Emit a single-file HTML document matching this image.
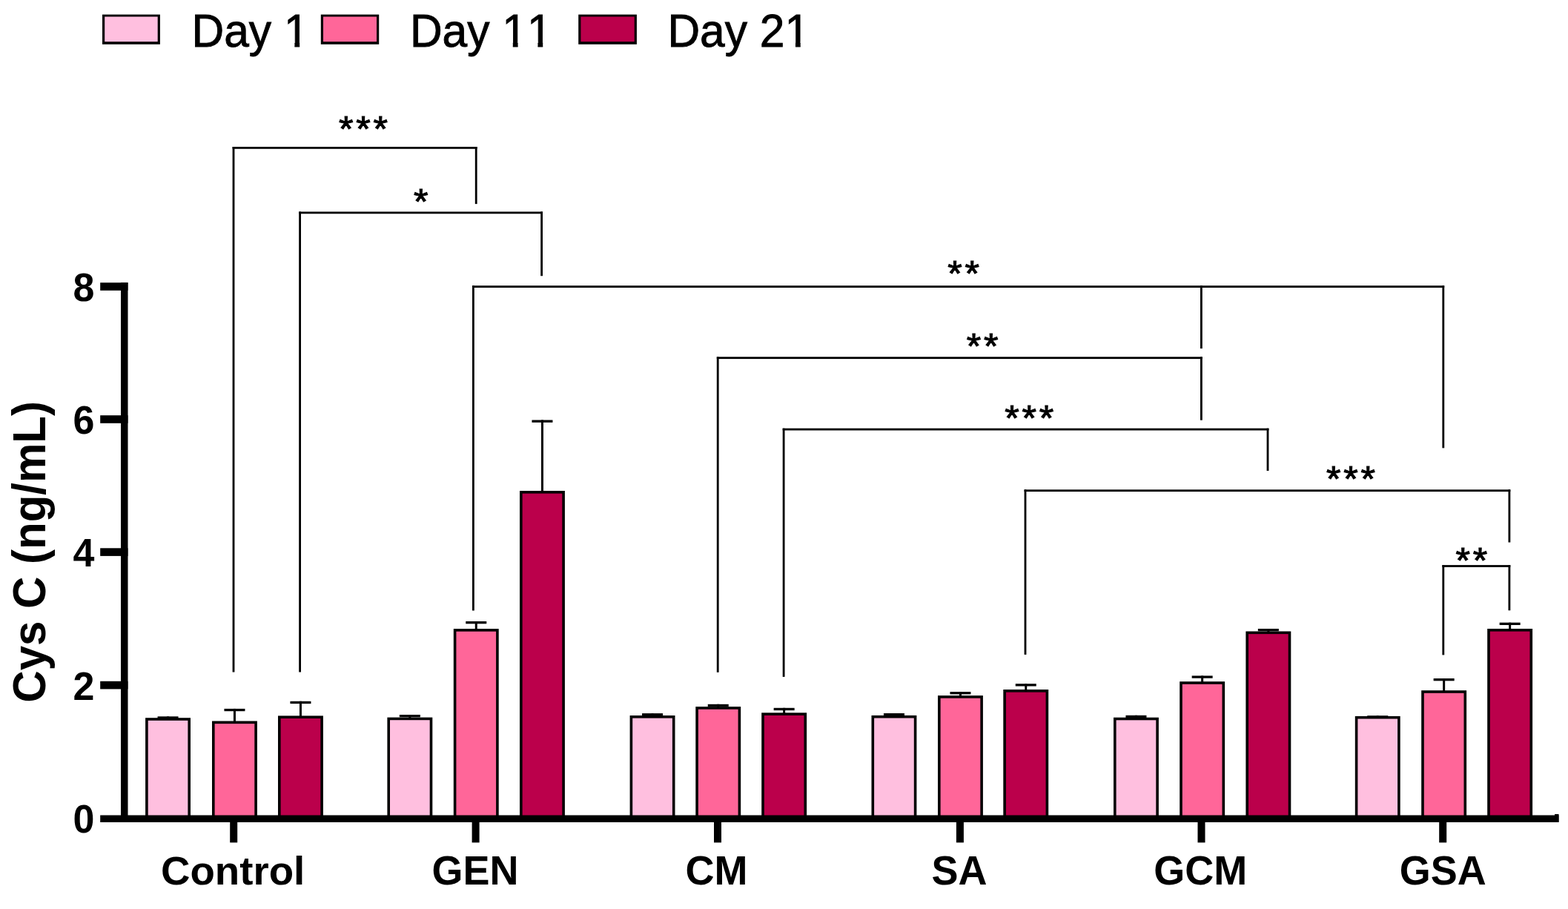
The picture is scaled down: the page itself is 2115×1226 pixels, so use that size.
<!DOCTYPE html>
<html><head><meta charset="utf-8"><title>Cys C chart</title>
<style>
html,body{margin:0;padding:0;background:#fff;}
body{width:2115px;height:1226px;overflow:hidden;}
svg{display:block;}
text{font-family:"Liberation Sans", Arial, Helvetica, sans-serif;fill:#000;}
</style></head><body>
<svg width="2115" height="1226" viewBox="0 0 2115 1226">
<defs><clipPath id="lc1" clipPathUnits="userSpaceOnUse"><rect x="-20.00" y="-200.00" width="1200.00" height="194.18"/><rect x="0.00" y="-6.12" width="43.69" height="60.00"/><rect x="43.69" y="-6.12" width="33.65" height="60.00"/><rect x="77.34" y="-6.12" width="30.25" height="60.00"/><rect x="107.59" y="-6.12" width="16.81" height="60.00"/><rect x="138.91" y="-6.12" width="6.75" height="8.12"/></clipPath><clipPath id="lc2" clipPathUnits="userSpaceOnUse"><rect x="-20.00" y="-200.00" width="1200.00" height="194.18"/><rect x="0.00" y="-6.12" width="43.69" height="60.00"/><rect x="43.69" y="-6.12" width="33.65" height="60.00"/><rect x="77.34" y="-6.12" width="30.25" height="60.00"/><rect x="107.59" y="-6.12" width="16.81" height="60.00"/><rect x="138.91" y="-6.12" width="6.75" height="8.12"/><rect x="172.56" y="-6.12" width="6.75" height="8.12"/></clipPath><clipPath id="lc3" clipPathUnits="userSpaceOnUse"><rect x="-20.00" y="-200.00" width="1200.00" height="194.18"/><rect x="0.00" y="-6.12" width="43.69" height="60.00"/><rect x="43.69" y="-6.12" width="33.65" height="60.00"/><rect x="77.34" y="-6.12" width="30.25" height="60.00"/><rect x="107.59" y="-6.12" width="16.81" height="60.00"/><rect x="124.40" y="-6.12" width="33.65" height="60.00"/><rect x="172.56" y="-6.12" width="6.75" height="8.12"/></clipPath></defs>
<rect x="0" y="0" width="2115" height="1226" fill="#fff"/>
<rect x="138.00" y="19.60" width="77.90" height="40.20" fill="#000"/>
<rect x="141.20" y="22.50" width="71.50" height="33.70" fill="#FFBFDF"/>
<rect x="432.80" y="19.60" width="78.40" height="40.20" fill="#000"/>
<rect x="436.00" y="22.50" width="72.00" height="33.70" fill="#FF6699"/>
<rect x="780.20" y="19.60" width="78.70" height="40.20" fill="#000"/>
<rect x="783.40" y="22.50" width="72.30" height="33.70" fill="#BB004B"/>
<text transform="translate(258.50,62.50) scale(1.0,1.025)" font-size="60.5" font-weight="normal" text-anchor="start"  stroke="#000" stroke-width="0.9" clip-path="url(#lc1)" style="font-kerning:none">Day 1</text>
<text transform="translate(552.90,62.50) scale(1.0,1.025)" font-size="60.5" font-weight="normal" text-anchor="start"  stroke="#000" stroke-width="0.9" clip-path="url(#lc2)" style="font-kerning:none">Day 11</text>
<text transform="translate(900.40,62.50) scale(1.0,1.025)" font-size="60.5" font-weight="normal" text-anchor="start"  stroke="#000" stroke-width="0.9" clip-path="url(#lc3)" style="font-kerning:none">Day 21</text>
<rect x="225.05" y="966.30" width="3.00" height="2.90" fill="#000"/>
<rect x="212.55" y="966.30" width="28.00" height="3.30" fill="#000"/>
<rect x="196.10" y="968.20" width="60.90" height="132.30" fill="#000"/>
<rect x="199.70" y="971.80" width="53.70" height="128.70" fill="#FFBFDF"/>
<rect x="314.95" y="955.90" width="3.00" height="17.60" fill="#000"/>
<rect x="302.45" y="955.90" width="28.00" height="3.30" fill="#000"/>
<rect x="286.00" y="972.50" width="60.90" height="128.00" fill="#000"/>
<rect x="289.60" y="976.10" width="53.70" height="124.40" fill="#FF6699"/>
<rect x="403.95" y="945.80" width="3.00" height="20.60" fill="#000"/>
<rect x="391.45" y="945.80" width="28.00" height="3.30" fill="#000"/>
<rect x="375.00" y="965.40" width="60.90" height="135.10" fill="#000"/>
<rect x="378.60" y="969.00" width="53.70" height="131.50" fill="#BB004B"/>
<rect x="551.35" y="964.00" width="3.00" height="4.60" fill="#000"/>
<rect x="538.85" y="964.00" width="28.00" height="3.30" fill="#000"/>
<rect x="522.40" y="967.60" width="60.90" height="132.90" fill="#000"/>
<rect x="526.00" y="971.20" width="53.70" height="129.30" fill="#FFBFDF"/>
<rect x="640.75" y="838.00" width="3.00" height="11.10" fill="#000"/>
<rect x="628.25" y="838.00" width="28.00" height="3.30" fill="#000"/>
<rect x="611.80" y="848.10" width="60.90" height="252.40" fill="#000"/>
<rect x="615.40" y="851.70" width="53.70" height="248.80" fill="#FF6699"/>
<rect x="729.95" y="566.50" width="3.00" height="96.50" fill="#000"/>
<rect x="717.45" y="566.50" width="28.00" height="3.30" fill="#000"/>
<rect x="701.00" y="662.00" width="60.90" height="438.50" fill="#000"/>
<rect x="704.60" y="665.60" width="53.70" height="434.90" fill="#BB004B"/>
<rect x="878.55" y="962.10" width="3.00" height="3.90" fill="#000"/>
<rect x="866.05" y="962.10" width="28.00" height="3.30" fill="#000"/>
<rect x="849.60" y="965.00" width="60.90" height="135.50" fill="#000"/>
<rect x="853.20" y="968.60" width="53.70" height="131.90" fill="#FFBFDF"/>
<rect x="967.25" y="949.80" width="3.00" height="4.30" fill="#000"/>
<rect x="954.75" y="949.80" width="28.00" height="3.30" fill="#000"/>
<rect x="938.30" y="953.10" width="60.90" height="147.40" fill="#000"/>
<rect x="941.90" y="956.70" width="53.70" height="143.80" fill="#FF6699"/>
<rect x="1056.15" y="954.80" width="3.00" height="7.50" fill="#000"/>
<rect x="1043.65" y="954.80" width="28.00" height="3.30" fill="#000"/>
<rect x="1027.20" y="961.30" width="60.90" height="139.20" fill="#000"/>
<rect x="1030.80" y="964.90" width="53.70" height="135.60" fill="#BB004B"/>
<rect x="1204.45" y="962.00" width="3.00" height="3.90" fill="#000"/>
<rect x="1191.95" y="962.00" width="28.00" height="3.30" fill="#000"/>
<rect x="1175.50" y="964.90" width="60.90" height="135.60" fill="#000"/>
<rect x="1179.10" y="968.50" width="53.70" height="132.00" fill="#FFBFDF"/>
<rect x="1293.95" y="933.10" width="3.00" height="6.00" fill="#000"/>
<rect x="1281.45" y="933.10" width="28.00" height="3.30" fill="#000"/>
<rect x="1265.00" y="938.10" width="60.90" height="162.40" fill="#000"/>
<rect x="1268.60" y="941.70" width="53.70" height="158.80" fill="#FF6699"/>
<rect x="1382.25" y="922.20" width="3.00" height="8.80" fill="#000"/>
<rect x="1369.75" y="922.20" width="28.00" height="3.30" fill="#000"/>
<rect x="1353.30" y="930.00" width="60.90" height="170.50" fill="#000"/>
<rect x="1356.90" y="933.60" width="53.70" height="166.90" fill="#BB004B"/>
<rect x="1530.95" y="964.80" width="3.00" height="3.90" fill="#000"/>
<rect x="1518.45" y="964.80" width="28.00" height="3.30" fill="#000"/>
<rect x="1502.00" y="967.70" width="60.90" height="132.80" fill="#000"/>
<rect x="1505.60" y="971.30" width="53.70" height="129.20" fill="#FFBFDF"/>
<rect x="1620.15" y="911.40" width="3.00" height="8.80" fill="#000"/>
<rect x="1607.65" y="911.40" width="28.00" height="3.30" fill="#000"/>
<rect x="1591.20" y="919.20" width="60.90" height="181.30" fill="#000"/>
<rect x="1594.80" y="922.80" width="53.70" height="177.70" fill="#FF6699"/>
<rect x="1709.35" y="848.00" width="3.00" height="4.50" fill="#000"/>
<rect x="1696.85" y="848.00" width="28.00" height="3.30" fill="#000"/>
<rect x="1680.40" y="851.50" width="60.90" height="249.00" fill="#000"/>
<rect x="1684.00" y="855.10" width="53.70" height="245.40" fill="#BB004B"/>
<rect x="1856.75" y="965.20" width="3.00" height="1.70" fill="#000"/>
<rect x="1844.25" y="965.20" width="28.00" height="3.30" fill="#000"/>
<rect x="1827.80" y="965.90" width="60.90" height="134.60" fill="#000"/>
<rect x="1831.40" y="969.50" width="53.70" height="131.00" fill="#FFBFDF"/>
<rect x="1946.15" y="915.00" width="3.00" height="17.20" fill="#000"/>
<rect x="1933.65" y="915.00" width="28.00" height="3.30" fill="#000"/>
<rect x="1917.20" y="931.20" width="60.90" height="169.30" fill="#000"/>
<rect x="1920.80" y="934.80" width="53.70" height="165.70" fill="#FF6699"/>
<rect x="2035.15" y="839.70" width="3.00" height="9.30" fill="#000"/>
<rect x="2022.65" y="839.70" width="28.00" height="3.30" fill="#000"/>
<rect x="2006.20" y="848.00" width="60.90" height="252.50" fill="#000"/>
<rect x="2009.80" y="851.60" width="53.70" height="248.90" fill="#BB004B"/>
<rect x="163.00" y="381.00" width="9.50" height="728.00" fill="#000"/>
<rect x="135.20" y="381.20" width="37.30" height="10.60" fill="#000"/>
<rect x="135.20" y="560.20" width="37.30" height="10.60" fill="#000"/>
<rect x="135.20" y="739.30" width="37.30" height="10.60" fill="#000"/>
<rect x="135.20" y="918.80" width="37.30" height="10.60" fill="#000"/>
<rect x="135.20" y="1099.50" width="1967.30" height="9.50" fill="#000"/>
<rect x="2097.10" y="1098.00" width="5.40" height="10.60" fill="#000"/>
<rect x="310.20" y="1105.00" width="10.00" height="31.40" fill="#000"/>
<rect x="636.60" y="1105.00" width="10.00" height="31.40" fill="#000"/>
<rect x="963.00" y="1105.00" width="10.00" height="31.40" fill="#000"/>
<rect x="1289.90" y="1105.00" width="10.00" height="31.40" fill="#000"/>
<rect x="1615.50" y="1105.00" width="10.00" height="31.40" fill="#000"/>
<rect x="1941.20" y="1105.00" width="10.00" height="31.40" fill="#000"/>
<text transform="translate(127.50,405.90) scale(1.0,1.04)" font-size="52" font-weight="bold" text-anchor="end" >8</text>
<text transform="translate(127.50,584.90) scale(1.0,1.04)" font-size="52" font-weight="bold" text-anchor="end" >6</text>
<text transform="translate(127.50,764.00) scale(1.0,1.04)" font-size="52" font-weight="bold" text-anchor="end" >4</text>
<text transform="translate(127.50,943.50) scale(1.0,1.04)" font-size="52" font-weight="bold" text-anchor="end" >2</text>
<text transform="translate(127.50,1122.70) scale(1.0,1.04)" font-size="52" font-weight="bold" text-anchor="end" >0</text>
<text transform="translate(314.10,1193.20) scale(1.012,1.0)" font-size="54" font-weight="bold" text-anchor="middle" >Control</text>
<text transform="translate(641.05,1193.20) scale(1.0,1.045)" font-size="54" font-weight="bold" text-anchor="middle" >GEN</text>
<text transform="translate(966.60,1193.20) scale(1.0,1.045)" font-size="54" font-weight="bold" text-anchor="middle" >CM</text>
<text transform="translate(1294.00,1193.20) scale(1.0,1.045)" font-size="54" font-weight="bold" text-anchor="middle" >SA</text>
<text transform="translate(1619.20,1193.20) scale(1.0,1.045)" font-size="54" font-weight="bold" text-anchor="middle" >GCM</text>
<text transform="translate(1946.30,1193.20) scale(1.0,1.045)" font-size="54" font-weight="bold" text-anchor="middle" >GSA</text>
<text transform="translate(60.5,744.35) rotate(-90) scale(1,1.04)" x="0" y="0" font-size="60" font-weight="bold" text-anchor="middle">Cys C (ng/mL)</text>
<rect x="313.60" y="198.00" width="330.00" height="2.80" fill="#000"/>
<rect x="313.60" y="198.00" width="2.80" height="708.50" fill="#000"/>
<rect x="640.80" y="198.00" width="2.80" height="77.10" fill="#000"/>
<rect x="403.20" y="285.50" width="328.80" height="2.80" fill="#000"/>
<rect x="403.20" y="285.50" width="2.80" height="621.00" fill="#000"/>
<rect x="729.20" y="285.50" width="2.80" height="86.70" fill="#000"/>
<rect x="637.00" y="385.20" width="1311.20" height="2.80" fill="#000"/>
<rect x="637.00" y="385.20" width="2.80" height="438.30" fill="#000"/>
<rect x="1619.00" y="385.20" width="2.80" height="84.90" fill="#000"/>
<rect x="1945.40" y="385.20" width="2.80" height="219.10" fill="#000"/>
<rect x="966.80" y="481.30" width="655.00" height="2.80" fill="#000"/>
<rect x="966.80" y="481.30" width="2.80" height="425.50" fill="#000"/>
<rect x="1619.00" y="481.30" width="2.80" height="85.40" fill="#000"/>
<rect x="1055.70" y="577.70" width="655.70" height="2.80" fill="#000"/>
<rect x="1055.70" y="577.70" width="2.80" height="335.20" fill="#000"/>
<rect x="1708.60" y="577.70" width="2.80" height="57.30" fill="#000"/>
<rect x="1381.60" y="660.30" width="655.70" height="2.80" fill="#000"/>
<rect x="1381.60" y="660.30" width="2.80" height="222.60" fill="#000"/>
<rect x="2034.50" y="660.30" width="2.80" height="71.20" fill="#000"/>
<rect x="1945.40" y="762.10" width="91.90" height="2.80" fill="#000"/>
<rect x="1945.40" y="762.10" width="2.80" height="121.30" fill="#000"/>
<rect x="2034.50" y="762.10" width="2.80" height="61.20" fill="#000"/>
<text transform="translate(490.00,190.48) scale(1,0.95)" x="-23.25 0.00 23.25" y="0" font-size="50" font-weight="normal" text-anchor="middle" stroke="#000" stroke-width="1.1">***</text>
<text transform="translate(567.80,288.38) scale(1,0.95)" x="0.00" y="0" font-size="50" font-weight="normal" text-anchor="middle" stroke="#000" stroke-width="1.1">*</text>
<text transform="translate(1299.60,385.48) scale(1,0.95)" x="-11.62 11.62" y="0" font-size="50" font-weight="normal" text-anchor="middle" stroke="#000" stroke-width="1.1">**</text>
<text transform="translate(1325.05,483.18) scale(1,0.95)" x="-11.62 11.62" y="0" font-size="50" font-weight="normal" text-anchor="middle" stroke="#000" stroke-width="1.1">**</text>
<text transform="translate(1388.25,580.18) scale(1,0.95)" x="-23.25 0.00 23.25" y="0" font-size="50" font-weight="normal" text-anchor="middle" stroke="#000" stroke-width="1.1">***</text>
<text transform="translate(1821.95,662.08) scale(1,0.95)" x="-23.25 0.00 23.25" y="0" font-size="50" font-weight="normal" text-anchor="middle" stroke="#000" stroke-width="1.1">***</text>
<text transform="translate(1984.85,772.08) scale(1,0.95)" x="-11.62 11.62" y="0" font-size="50" font-weight="normal" text-anchor="middle" stroke="#000" stroke-width="1.1">**</text>
</svg>
</body></html>
